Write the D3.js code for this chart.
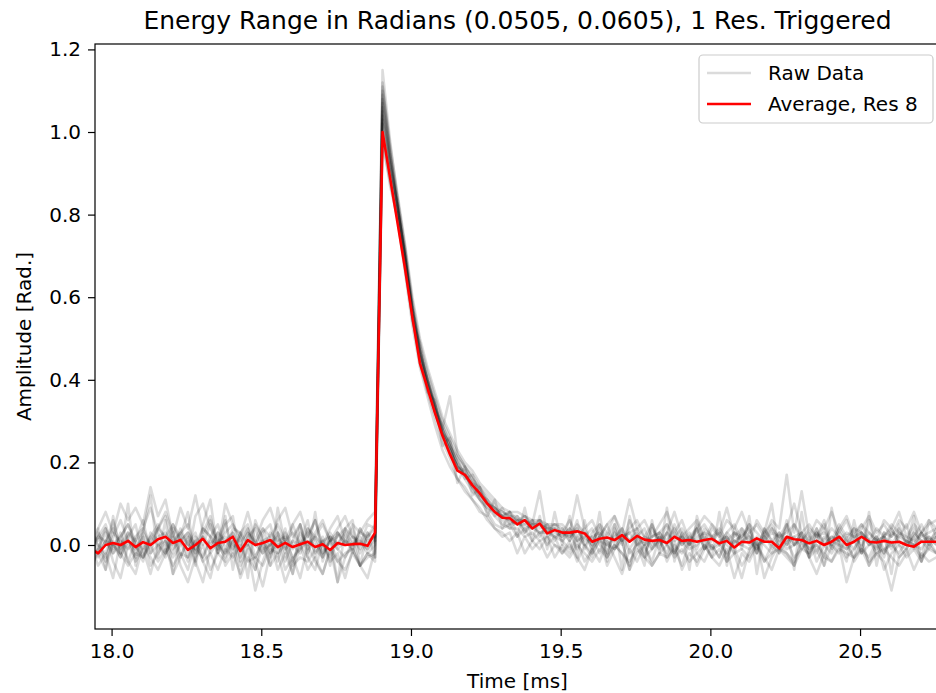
<!DOCTYPE html>
<html>
<head>
<meta charset="utf-8">
<script src="https://cdn.jsdelivr.net/npm/d3@7"></script>
<style>
  body { margin: 0; background: white; }
  svg text { font-family: "DejaVu Sans", sans-serif; fill: #000; }
</style>
</head>
<body>
<div id="chart"></div>
<script>
// sample grid of the traces (ms)
const t0 = 17.93;
const dt = 0.025;

// red average trace
const average = [
  -0.01, -0.02, 0.0, 0.005, 0.0, 0.01, -0.005, 0.007, 0.0, 0.014,
  0.02, 0.005, 0.012, -0.012, 0.0, 0.015, -0.008, 0.005, 0.008, 0.02,
  -0.015, 0.012, 0.0, 0.005, 0.012, -0.005, 0.005, -0.005, 0.002, 0.008,
  -0.005, 0.002, -0.012, 0.005, 0.0, 0.002, 0.003, -0.002, 0.03, 1.0,
  0.89, 0.78, 0.67, 0.55, 0.44, 0.38, 0.32, 0.265, 0.22, 0.18,
  0.17, 0.145, 0.125, 0.10, 0.08, 0.066, 0.065, 0.05, 0.06, 0.04,
  0.052, 0.028, 0.036, 0.03, 0.03, 0.033, 0.028, 0.008, 0.015, 0.018,
  0.012, 0.024, 0.008, 0.022, 0.013, 0.01, 0.012, 0.005, 0.02, 0.01,
  0.012, 0.008, 0.012, 0.015, 0.004, 0.01, -0.006, 0.008, 0.006, 0.016,
  0.008, 0.008, -0.008, 0.02, 0.014, 0.012, 0.004, 0.01, 0.0, 0.008,
  0.02, 0.0, 0.008, 0.02, 0.008, 0.006, 0.01, 0.006, 0.008, 0.0,
  -0.004, 0.008, 0.008, 0.008
];

// individual raw traces (grey), estimated
const raw1 = [
  -0.03, 0.02, 0.05, -0.01, 0.03, -0.04, 0.01, 0.06, -0.02, 0.04,
  0.08, 0.03, -0.03, 0.01, -0.05, 0.04, 0.02, -0.02, 0.05, 0.07,
  -0.04, 0.02, -0.06, 0.03, 0.05, -0.02, 0.04, -0.04, 0.01, 0.06,
  -0.03, 0.02, -0.05, 0.03, 0.00, 0.04, -0.02, 0.02, 0.05, 1.15,
  0.98, 0.84, 0.72, 0.58, 0.47, 0.40, 0.33, 0.29, 0.24, 0.21,
  0.16, 0.17, 0.12, 0.11, 0.07, 0.09, 0.05, 0.07, 0.03, 0.06,
  0.02, 0.05, 0.01, 0.04, 0.01, 0.06, -0.01, 0.03, 0.05, -0.02,
  0.04, 0.00, 0.06, 0.02, -0.03, 0.04, 0.01, 0.05, -0.02, 0.03,
  0.00, 0.05, -0.01, 0.04, 0.02, -0.04, 0.03, 0.01, 0.05, -0.02,
  0.02, 0.04, -0.01, 0.06, 0.00, 0.03, -0.03, 0.02, 0.05, -0.01,
  0.03, 0.01, 0.04, -0.02, 0.06, 0.01, -0.03, 0.03, 0.02, 0.05,
  -0.01, 0.03, 0.00, 0.04
];
const raw2 = [
  -0.05, -0.02, -0.06, 0.01, -0.03, 0.02, -0.04, -0.01, -0.07, 0.00,
  -0.03, 0.03, -0.02, -0.06, 0.01, -0.04, -0.08, 0.00, -0.03, 0.02,
  -0.05, -0.01, -0.11, -0.04, 0.01, -0.06, -0.02, -0.07, 0.00, -0.03,
  -0.06, 0.01, -0.04, -0.02, -0.08, -0.01, -0.05, -0.03, -0.02, 1.05,
  0.92, 0.82, 0.69, 0.56, 0.45, 0.39, 0.32, 0.27, 0.23, 0.19,
  0.16, 0.13, 0.11, 0.08, 0.05, 0.04, 0.05, 0.02, 0.04, 0.01,
  0.03, 0.00, 0.02, -0.02, 0.01, -0.04, 0.00, -0.03, 0.02, -0.05,
  -0.01, 0.01, -0.06, -0.02, 0.00, -0.04, 0.02, -0.03, -0.01, -0.05,
  0.01, -0.02, -0.04, 0.00, -0.03, 0.02, -0.01, -0.05, -0.02, 0.01,
  -0.08, -0.03, 0.00, -0.02, -0.04, 0.01, -0.03, -0.01, -0.05, 0.00,
  -0.02, 0.02, -0.04, -0.01, -0.03, 0.01, -0.06, -0.02, 0.00, -0.03,
  -0.01, -0.04, 0.01, -0.02
];
const raw3 = [
  0.01, 0.04, 0.08, 0.03, 0.10, 0.06, 0.09, 0.05, 0.14, 0.07,
  0.11, 0.02, 0.09, 0.04, 0.12, 0.03, 0.07, -0.01, 0.10, 0.05,
  0.02, 0.08, 0.01, 0.06, 0.09, 0.03, -0.02, 0.05, 0.08, 0.02,
  0.06, 0.00, 0.04, 0.07, 0.01, 0.05, 0.03, 0.06, 0.08, 1.08,
  0.93, 0.82, 0.70, 0.56, 0.46, 0.40, 0.34, 0.28, 0.36, 0.22,
  0.19, 0.16, 0.13, 0.11, 0.09, 0.07, 0.08, 0.06, 0.07, 0.05,
  0.06, 0.04, 0.05, 0.05, 0.03, 0.12, 0.04, 0.06, 0.02, 0.05,
  0.07, 0.03, 0.11, 0.04, 0.06, 0.02, 0.05, 0.08, 0.03, 0.06,
  0.01, 0.04, 0.07, 0.05, 0.02, 0.06, 0.04, 0.08, 0.03, 0.05,
  0.02, 0.06, 0.04, 0.17, 0.03, 0.13, 0.02, 0.06, 0.04, 0.08,
  0.03, 0.06, 0.01, 0.04, 0.07, 0.03, 0.05, 0.02, 0.06, 0.04,
  0.08, 0.03, 0.05, 0.06
];
const raw4 = [
  0.02, -0.03, 0.01, 0.04, -0.02, 0.03, 0.00, -0.04, 0.02, 0.05,
  0.01, -0.02, 0.04, 0.00, 0.03, -0.03, 0.02, 0.05, -0.01, 0.03,
  0.00, 0.04, -0.03, 0.01, 0.02, -0.04, 0.03, 0.00, -0.02, 0.04,
  0.01, -0.03, 0.02, 0.00, 0.03, -0.02, 0.04, 0.01, 0.02, 0.97,
  0.88, 0.79, 0.67, 0.55, 0.45, 0.39, 0.33, 0.27, 0.23, 0.19,
  0.17, 0.14, 0.11, 0.09, 0.08, 0.06, 0.04, 0.06, 0.03, 0.05,
  0.13, 0.02, 0.04, 0.01, 0.03, -0.01, 0.02, 0.04, 0.00, -0.02,
  0.03, 0.01, -0.06, 0.02, 0.04, -0.01, 0.01, 0.03, -0.02, 0.02,
  0.00, 0.04, -0.01, 0.02, 0.03, -0.03, 0.01, 0.00, 0.03, -0.02,
  0.04, 0.01, -0.01, 0.02, 0.00, 0.03, -0.02, 0.01, 0.04, -0.01,
  0.02, 0.00, -0.03, 0.03, 0.01, -0.02, 0.02, 0.04, 0.00, -0.01,
  0.03, 0.01, 0.02, 0.00
];
const raw5 = [
  -0.06, -0.01, 0.03, -0.04, -0.08, 0.00, -0.03, 0.02, -0.05, -0.02,
  0.01, -0.07, -0.03, 0.02, -0.04, -0.09, -0.01, 0.03, -0.05, -0.02,
  -0.07, 0.00, -0.04, -0.10, -0.02, 0.01, -0.06, -0.03, -0.08, 0.00,
  -0.04, -0.07, -0.01, -0.09, -0.03, 0.01, -0.05, -0.02, -0.04, 1.02,
  0.90, 0.80, 0.68, 0.55, 0.44, 0.37, 0.31, 0.25, 0.21, 0.16,
  0.14, 0.11, 0.09, 0.06, 0.04, 0.02, 0.03, -0.02, 0.02, -0.01,
  0.01, -0.03, 0.00, -0.02, 0.00, -0.03, -0.06, -0.01, -0.04, 0.01,
  -0.03, -0.07, -0.01, -0.04, 0.00, -0.05, -0.02, -0.03, 0.01, -0.06,
  -0.02, -0.04, 0.00, -0.03, -0.05, -0.01, -0.08, -0.02, -0.04, 0.00,
  -0.03, -0.06, -0.01, -0.02, -0.05, 0.01, -0.03, -0.07, -0.02, -0.04,
  0.00, -0.09, -0.03, -0.01, -0.05, -0.02, -0.04, -0.11, -0.03, -0.01,
  -0.06, -0.02, -0.04, -0.03
];
const raw6 = [
  0.03, 0.00, -0.03, 0.02, 0.06, 0.01, -0.02, 0.04, 0.09, 0.03,
  -0.01, 0.05, 0.02, -0.03, 0.07, 0.10, 0.04, 0.01, 0.06, -0.02,
  0.03, 0.05, 0.00, 0.04, -0.01, 0.06, 0.09, 0.02, 0.05, -0.01,
  0.03, 0.06, 0.01, 0.04, 0.07, 0.02, 0.00, 0.05, 0.04, 1.10,
  0.95, 0.83, 0.69, 0.57, 0.46, 0.39, 0.34, 0.27, 0.25, 0.19,
  0.18, 0.15, 0.14, 0.10, 0.09, 0.07, 0.08, 0.05, 0.07, 0.04,
  0.06, 0.03, 0.05, 0.03, 0.06, 0.02, 0.04, 0.00, 0.05, 0.03,
  0.07, 0.01, 0.04, 0.06, 0.02, 0.05, 0.00, 0.03, 0.08, 0.02,
  0.04, 0.06, 0.01, 0.05, 0.03, 0.09, 0.02, 0.04, 0.00, 0.06,
  0.03, 0.05, 0.01, 0.04, 0.10, 0.03, 0.05, 0.02, 0.06, 0.00,
  0.04, 0.07, 0.02, 0.05, 0.03, 0.01, 0.06, 0.04, 0.08, 0.02,
  0.05, 0.03, 0.06, 0.04
];
const raw7 = [
  0.00, -0.05, -0.02, -0.08, 0.01, -0.04, -0.07, 0.00, -0.03, -0.06,
  -0.02, 0.02, -0.05, -0.09, -0.03, 0.00, -0.06, -0.02, -0.04, 0.01,
  -0.08, -0.03, -0.06, 0.00, -0.05, -0.02, -0.09, -0.04, 0.00, -0.06,
  -0.03, -0.07, -0.01, -0.04, -0.06, -0.02, -0.05, -0.08, -0.01, 0.99,
  0.87, 0.79, 0.66, 0.53, 0.43, 0.36, 0.29, 0.23, 0.19, 0.16,
  0.13, 0.11, 0.08, 0.07, 0.04, 0.03, 0.01, 0.03, -0.02, 0.01,
  -0.01, 0.02, -0.03, 0.00, -0.02, 0.01, -0.04, -0.01, 0.02, -0.03,
  0.00, -0.02, -0.05, 0.01, -0.03, -0.01, 0.02, -0.04, 0.00, -0.02,
  0.01, -0.05, -0.01, 0.00, -0.03, 0.02, -0.02, -0.08, -0.01, 0.01,
  -0.04, 0.00, -0.02, 0.01, -0.03, -0.01, 0.02, -0.04, 0.00, -0.02,
  0.01, -0.03, -0.01, 0.02, -0.05, 0.00, -0.02, 0.01, -0.03, -0.01,
  0.02, -0.04, 0.00, -0.02
];
const raw8 = [
  -0.02, 0.03, 0.00, 0.06, -0.01, 0.02, 0.05, -0.03, 0.01, 0.04,
  0.07, 0.00, 0.03, 0.05, -0.02, 0.02, 0.06, 0.01, -0.02, 0.04,
  0.03, 0.00, 0.05, 0.02, -0.03, 0.03, 0.01, 0.05, 0.00, 0.02,
  0.06, -0.01, 0.03, 0.00, 0.04, 0.02, -0.01, 0.03, 0.01, 1.04,
  0.93, 0.82, 0.70, 0.57, 0.47, 0.40, 0.34, 0.28, 0.24, 0.20,
  0.17, 0.15, 0.12, 0.10, 0.08, 0.07, 0.06, 0.05, 0.06, 0.04,
  0.05, 0.03, 0.04, 0.02, 0.04, 0.01, 0.03, -0.01, 0.02, 0.05,
  0.00, 0.03, 0.01, 0.04, -0.02, 0.02, 0.03, 0.00, 0.05, 0.01,
  0.03, -0.01, 0.04, 0.02, 0.00, 0.03, 0.05, 0.01, 0.02, -0.02,
  0.04, 0.01, 0.03, 0.00, 0.05, 0.02, -0.01, 0.03, 0.01, 0.04,
  0.02, 0.00, 0.03, 0.05, 0.01, -0.01, 0.03, 0.02, 0.04, 0.00,
  0.02, 0.05, 0.01, 0.03
];
const raw9 = [
  -0.04, 0.04, -0.06, 0.07, -0.02, 0.10, -0.05, 0.03, 0.12, -0.03,
  0.06, -0.07, 0.02, 0.08, -0.04, 0.05, 0.11, -0.02, 0.07, -0.06,
  0.03, -0.08, 0.06, 0.01, -0.05, 0.09, 0.00, -0.07, 0.05, -0.03,
  0.08, -0.04, 0.02, -0.09, 0.04, 0.06, -0.05, 0.03, -0.03, 1.12,
  0.96, 0.81, 0.71, 0.54, 0.49, 0.37, 0.35, 0.24, 0.26, 0.15,
  0.19, 0.12, 0.14, 0.07, 0.11, 0.04, 0.08, 0.02, 0.09, 0.01,
  0.07, -0.01, 0.08, 0.00, 0.07, -0.03, 0.06, -0.02, 0.08, -0.04,
  0.05, -0.06, 0.07, 0.00, -0.05, 0.06, -0.02, 0.09, -0.04, 0.03,
  -0.06, 0.07, 0.01, -0.03, 0.08, -0.05, 0.04, -0.01, 0.07, -0.07,
  0.03, 0.10, -0.02, 0.05, -0.06, 0.08, -0.03, 0.04, -0.05, 0.09,
  0.00, -0.04, 0.06, -0.02, 0.08, -0.05, 0.03, -0.07, 0.05, 0.00,
  0.07, -0.04, 0.06, 0.02
];
const raw10 = [
  0.01, -0.01, 0.04, -0.02, 0.02, 0.05, 0.00, -0.03, 0.03, 0.01,
  -0.02, 0.04, 0.01, -0.04, 0.02, 0.00, 0.05, -0.02, 0.01, 0.03,
  -0.03, 0.02, 0.04, -0.01, 0.00, 0.03, -0.04, 0.01, 0.05, -0.02,
  0.02, 0.00, -0.03, 0.03, 0.01, -0.01, 0.04, 0.00, 0.03, 1.06,
  0.93, 0.82, 0.70, 0.57, 0.47, 0.40, 0.33, 0.28, 0.23, 0.19,
  0.17, 0.14, 0.12, 0.10, 0.08, 0.07, 0.05, 0.06, 0.04, 0.05,
  0.03, 0.04, 0.02, 0.03, 0.01, 0.04, 0.00, 0.02, -0.02, 0.03,
  0.01, 0.04, -0.01, 0.02, 0.00, 0.05, 0.01, -0.02, 0.03, 0.00,
  0.02, 0.04, -0.01, 0.01, 0.03, 0.00, -0.02, 0.04, 0.02, 0.00,
  0.03, -0.01, 0.02, 0.05, 0.00, 0.01, 0.03, -0.02, 0.02, 0.00,
  0.04, 0.01, -0.01, 0.03, 0.00, 0.02, -0.02, 0.04, 0.01, 0.00,
  0.03, 0.01, -0.01, 0.02
];
const raw11 = [
  0.02, 0.00, -0.02, 0.03, 0.01, -0.01, 0.02, 0.04, 0.00, 0.02,
  0.03, -0.01, 0.01, 0.03, -0.02, 0.02, 0.00, 0.03, 0.01, -0.01,
  0.02, 0.04, 0.00, -0.02, 0.03, 0.01, 0.02, -0.01, 0.03, 0.00,
  0.02, -0.02, 0.01, 0.03, 0.00, 0.02, 0.01, -0.01, 0.02, 1.07,
  0.94, 0.83, 0.71, 0.58, 0.48, 0.41, 0.35, 0.29, 0.25, 0.21,
  0.19, 0.16, 0.14, 0.11, 0.09, 0.08, 0.07, 0.06, 0.06, 0.05,
  0.05, 0.04, 0.04, 0.03, 0.02, 0.04, 0.01, 0.02, 0.03, 0.00,
  0.02, 0.04, 0.01, 0.03, 0.00, 0.02, 0.03, 0.01, 0.04, 0.00,
  0.02, 0.01, 0.03, 0.02, 0.00, 0.03, 0.01, 0.02, 0.04, 0.00,
  0.01, 0.03, 0.02, 0.00, 0.02, 0.03, 0.01, 0.04, 0.00, 0.02,
  0.01, 0.03, 0.02, 0.00, 0.03, 0.01, 0.02, 0.00, 0.03, 0.02,
  0.01, 0.03, 0.00, 0.02
];
const raw12 = [
  -0.01, 0.02, 0.01, -0.02, 0.00, 0.03, 0.01, -0.01, 0.02, 0.00,
  -0.02, 0.01, 0.03, 0.00, -0.01, 0.02, -0.02, 0.01, 0.02, 0.00,
  -0.01, 0.03, 0.01, -0.02, 0.00, 0.02, -0.01, 0.01, 0.00, 0.03,
  -0.02, 0.01, 0.02, -0.01, 0.01, 0.00, 0.02, -0.01, 0.01, 1.09,
  0.95, 0.84, 0.72, 0.59, 0.49, 0.42, 0.36, 0.30, 0.26, 0.22,
  0.19, 0.17, 0.14, 0.12, 0.10, 0.08, 0.07, 0.07, 0.05, 0.06,
  0.04, 0.05, 0.03, 0.02, 0.04, 0.01, 0.02, 0.00, 0.03, 0.01,
  -0.01, 0.02, 0.03, 0.00, 0.02, 0.01, -0.01, 0.03, 0.01, 0.02,
  0.00, 0.02, 0.03, -0.01, 0.01, 0.02, 0.00, 0.03, 0.01, -0.01,
  0.02, 0.00, 0.03, 0.01, 0.02, -0.01, 0.01, 0.03, 0.00, 0.02,
  0.01, -0.01, 0.02, 0.03, 0.00, 0.01, 0.02, -0.01, 0.02, 0.01,
  0.00, 0.03, 0.01, 0.02
];
const raw13 = [
  0.00, -0.02, 0.01, 0.00, -0.03, 0.01, -0.01, 0.02, -0.02, 0.00,
  0.01, -0.03, 0.00, 0.02, -0.01, -0.03, 0.01, 0.00, -0.02, 0.01,
  -0.01, 0.00, -0.03, 0.01, -0.02, 0.00, 0.01, -0.03, -0.01, 0.01,
  0.00, -0.02, 0.01, -0.01, -0.03, 0.00, 0.01, -0.02, 0.00, 1.03,
  0.92, 0.82, 0.70, 0.57, 0.47, 0.40, 0.34, 0.28, 0.24, 0.20,
  0.18, 0.15, 0.13, 0.10, 0.09, 0.07, 0.06, 0.05, 0.05, 0.04,
  0.03, 0.03, 0.02, 0.01, -0.01, 0.02, 0.00, -0.02, 0.01, 0.00,
  -0.01, 0.02, -0.02, 0.00, 0.01, -0.01, 0.02, 0.00, -0.02, 0.01,
  -0.01, 0.00, 0.02, -0.01, 0.00, -0.02, 0.01, 0.00, -0.01, 0.02,
  0.00, -0.02, 0.01, -0.01, 0.00, 0.02, -0.01, 0.00, -0.02, 0.01,
  0.00, -0.01, 0.01, -0.02, 0.00, 0.02, -0.01, 0.00, -0.02, 0.01,
  0.00, -0.01, 0.02, 0.00
];
const raw14 = [
  0.03, 0.01, 0.04, 0.00, 0.02, 0.05, 0.01, 0.03, 0.00, 0.04,
  0.02, 0.05, 0.01, 0.03, 0.00, 0.04, 0.02, 0.00, 0.03, 0.05,
  0.01, 0.03, 0.00, 0.04, 0.02, 0.05, 0.01, 0.03, 0.00, 0.04,
  0.02, 0.05, 0.01, 0.02, 0.04, 0.00, 0.03, 0.02, 0.04, 1.11,
  0.97, 0.85, 0.73, 0.60, 0.50, 0.43, 0.37, 0.31, 0.27, 0.23,
  0.20, 0.18, 0.15, 0.13, 0.11, 0.09, 0.08, 0.08, 0.07, 0.06,
  0.06, 0.05, 0.05, 0.04, 0.02, 0.05, 0.03, 0.01, 0.04, 0.02,
  0.05, 0.01, 0.03, 0.04, 0.02, 0.00, 0.03, 0.05, 0.02, 0.04,
  0.01, 0.03, 0.05, 0.02, 0.04, 0.01, 0.03, 0.02, 0.05, 0.03,
  0.01, 0.04, 0.02, 0.03, 0.05, 0.01, 0.04, 0.02, 0.03, 0.01,
  0.05, 0.02, 0.04, 0.03, 0.01, 0.04, 0.02, 0.05, 0.03, 0.01,
  0.04, 0.02, 0.03, 0.04
];
const raw15 = [
  -0.03, -0.01, -0.04, 0.00, -0.02, -0.05, -0.02, -0.03, 0.00, -0.04,
  -0.01, -0.05, -0.02, -0.03, 0.01, -0.04, -0.02, -0.06, -0.01, -0.03,
  0.00, -0.04, -0.03, -0.05, -0.01, -0.02, 0.00, -0.05, -0.03, -0.04,
  -0.01, -0.03, 0.01, -0.04, -0.02, -0.01, -0.05, -0.02, -0.03, 1.00,
  0.90, 0.81, 0.69, 0.56, 0.46, 0.39, 0.33, 0.27, 0.23, 0.19,
  0.17, 0.14, 0.11, 0.09, 0.07, 0.05, 0.04, 0.04, 0.02, 0.03,
  0.01, 0.02, 0.00, -0.01, -0.03, 0.00, -0.02, -0.04, -0.01, -0.03,
  0.00, -0.02, -0.04, -0.01, -0.03, -0.05, -0.02, 0.00, -0.03, -0.01,
  -0.04, -0.02, 0.00, -0.03, -0.01, -0.04, -0.02, -0.01, -0.03, 0.00,
  -0.04, -0.02, -0.01, -0.03, -0.05, -0.01, -0.02, 0.00, -0.03, -0.04,
  -0.01, -0.02, -0.03, 0.00, -0.04, -0.02, -0.01, -0.03, -0.05, -0.02,
  0.00, -0.03, -0.01, -0.02
];
const rawTraces = [raw1, raw2, raw3, raw4, raw5, raw6, raw7, raw8,
  raw9, raw10, raw11, raw12, raw13, raw14, raw15];

const xTicks = [18.0, 18.5, 19.0, 19.5, 20.0, 20.5];
const yTicks = [0.0, 0.2, 0.4, 0.6, 0.8, 1.0, 1.2];
const legendLabels = ["Raw Data", "Average, Res 8"];
const titleText = "Energy Range in Radians (0.0505, 0.0605), 1 Res. Triggered";

const width = 936;
const height = 693;
// plot box (the right spine sits just past the edge of the picture)
const plotLeft = 95, plotRight = 940, plotTop = 44, plotBottom = 629;

const x = d3.scaleLinear().domain([17.9446, 20.767]).range([plotLeft, plotRight]);
const y = d3.scaleLinear().domain([-0.2034, 1.2131]).range([plotBottom, plotTop]);

const svg = d3.create("svg")
    .attr("width", width)
    .attr("height", height)
    .attr("viewBox", [0, 0, width, height]);

svg.append("rect")
    .attr("width", width)
    .attr("height", height)
    .attr("fill", "white");

svg.append("clipPath")
    .attr("id", "plot-clip")
  .append("rect")
    .attr("x", plotLeft)
    .attr("y", plotTop)
    .attr("width", plotRight - plotLeft)
    .attr("height", plotBottom - plotTop);

const line = d3.line()
    .x((d, i) => x(t0 + i * dt))
    .y(d => y(d));

const plot = svg.append("g")
    .attr("clip-path", "url(#plot-clip)")
    .attr("fill", "none")
    .attr("stroke-linejoin", "round")
    .attr("stroke-width", 2.6);

plot.append("g")
  .selectAll()
  .data(rawTraces)
  .join("path")
    .attr("stroke", "black")
    .attr("stroke-opacity", 0.14)
    .attr("d", line);

plot.append("path")
    .datum(average)
    .attr("stroke", "red")
    .attr("d", line);

// axes
const xAxis = svg.append("g")
    .attr("transform", `translate(0,${plotBottom})`)
    .call(d3.axisBottom(x)
        .tickValues(xTicks)
        .tickFormat(d3.format(".1f"))
        .tickSize(7)
        .tickPadding(8));

const yAxis = svg.append("g")
    .attr("transform", `translate(${plotLeft},0)`)
    .call(d3.axisLeft(y)
        .tickValues(yTicks)
        .tickFormat(d3.format(".1f"))
        .tickSize(7)
        .tickPadding(7));

[xAxis, yAxis].forEach(g => {
  g.select(".domain").remove();
  g.selectAll(".tick line").attr("stroke", "black").attr("stroke-width", 1.2);
  g.selectAll(".tick text")
      .attr("font-size", 20)
      .attr("font-family", "DejaVu Sans, sans-serif");
});

// spines
svg.append("rect")
    .attr("x", plotLeft)
    .attr("y", plotTop)
    .attr("width", plotRight - plotLeft)
    .attr("height", plotBottom - plotTop)
    .attr("fill", "none")
    .attr("stroke", "black")
    .attr("stroke-width", 1.2);

// labels
svg.append("text")
    .attr("x", (plotLeft + plotRight) / 2)
    .attr("y", 29)
    .attr("text-anchor", "middle")
    .attr("font-size", 25)
    .text(titleText);

svg.append("text")
    .attr("x", (plotLeft + plotRight) / 2)
    .attr("y", 688)
    .attr("text-anchor", "middle")
    .attr("font-size", 20)
    .text("Time [ms]");

svg.append("text")
    .attr("transform", `translate(31,${(plotTop + plotBottom) / 2}) rotate(-90)`)
    .attr("text-anchor", "middle")
    .attr("font-size", 20)
    .text("Amplitude [Rad.]");

// legend
const legend = svg.append("g");

legend.append("rect")
    .attr("x", 699)
    .attr("y", 55)
    .attr("width", 234)
    .attr("height", 68)
    .attr("rx", 4)
    .attr("fill", "white")
    .attr("fill-opacity", 0.8)
    .attr("stroke", "#cccccc")
    .attr("stroke-width", 1.2);

const legendColors = [["black", 0.14], ["red", 1]];
const entry = legend.selectAll(".entry")
  .data(legendLabels)
  .join("g")
    .attr("class", "entry")
    .attr("transform", (d, i) => `translate(0,${73 + i * 31})`);

entry.append("line")
    .attr("x1", 707)
    .attr("x2", 751)
    .attr("stroke", (d, i) => legendColors[i][0])
    .attr("stroke-opacity", (d, i) => legendColors[i][1])
    .attr("stroke-width", 2.6);

entry.append("text")
    .attr("x", 768)
    .attr("dy", "0.35em")
    .attr("font-size", 20)
    .text(d => d);

document.getElementById("chart").appendChild(svg.node());
</script>
</body>
</html>
